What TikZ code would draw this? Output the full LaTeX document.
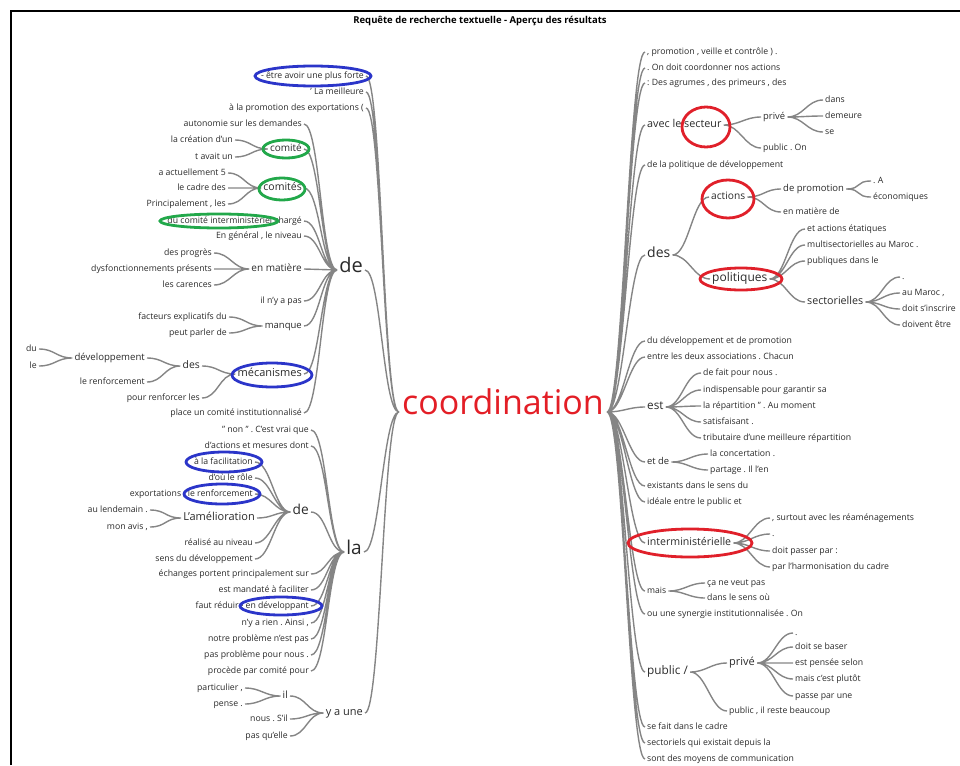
\documentclass[tikz,border=0pt]{standalone}
\usepackage{fontspec}
\setmainfont{Open Sans}
\usepackage{tikz}
\usepackage{color}
\frenchspacing
\definecolor{linkgray}{HTML}{858585}
\definecolor{wordgray}{HTML}{2A2A2A}
\definecolor{rootred}{HTML}{E31E26}
\definecolor{penblue}{HTML}{2B35C9}
\definecolor{pengreen}{HTML}{22A84A}
\definecolor{penred}{HTML}{E0202A}

\begin{document}
\begin{tikzpicture}[x=1pt,y=-1pt,
  lw/.style={anchor=mid east,inner xsep=2pt,inner ysep=1pt,text=wordgray,font=\fontsize{#1}{#1}\selectfont},
  lw/.default=8.7,
  rw/.style={lw=#1,anchor=mid west},
  rw/.default=8.7,
  link/.style={draw=linkgray,line width=1.4pt,to path={.. controls +(16,0) and +(-16,0) .. (\tikztotarget)}},
  pen/.style={line width=2.8pt}]
\useasboundingbox (0,0) rectangle (960,765);
% \clip (0,0) rectangle (960,765);
\draw [line width=1.2pt] (11,765) -- (11,11) -- (960,11);
\node [font=\bfseries\fontsize{9.5}{10}\selectfont] (title) at (480,21) {Requête de recherche textuelle - Aperçu des résultats};
%% racine
\node [text=rootred,font=\fontsize{34}{34}\selectfont,inner xsep=3pt,anchor=mid] (coord) at (503,412) {coordination};
%% gauche
\node[lw] (forte) at (366,76) {- être avoir une plus forte};
\node[lw] (meilleure) at (366,92) {' La meilleure};
\node[lw] (promo) at (366,108) {à la promotion des exportations (};
\node[lw=20] (de) at (365,270) {de};
\node[lw=19] (la) at (364,552) {la};
\node[lw=11] (yaune) at (365,713) {y a une};
\node[lw] (autonomie) at (304,124) {autonomie sur les demandes};
\node[lw=10] (comite) at (304,149) {comité};
\node[lw=10.5] (comites) at (304,188) {comités};
\node[lw] (charge) at (304,221) {du comité interministériel chargé};
\node[lw] (general) at (304,236) {En général , le niveau};
\node[lw=10] (matiere) at (304,269) {en matière};
\node[lw] (pas) at (304,301) {il n'y a pas};
\node[lw=9.5] (manque) at (304,326) {manque};
\node[lw=11] (meca) at (304,374) {mécanismes};
\node[lw] (place) at (304,413) {place un comité institutionnalisé};
\node[lw] (creation) at (235,140) {la création d'un};
\node[lw] (avait) at (235,157) {t avait un};
\node[lw] (actuel) at (228,173) {a actuellement 5};
\node[lw] (cadre) at (228,188) {le cadre des};
\node[lw] (princ) at (228,204) {Principalement , les};
\node[lw] (progres) at (214,253) {des progrès};
\node[lw] (dysf) at (214,269) {dysfonctionnements présents};
\node[lw] (carences) at (214,285) {les carences};
\node[lw] (facteurs) at (229,317) {facteurs explicatifs du};
\node[lw] (parler) at (229,333) {peut parler de};
\node[lw=10.4] (des) at (202,366) {des};
\node[lw] (renforcer) at (202,398) {pour renforcer les};
\node[lw=9.6] (dev) at (147,358) {développement};
\node[lw] (renf) at (147,382) {le renforcement};
\node[lw] (du) at (39,349) {du};
\node[lw] (le) at (39,366) {le};
\node[lw] (non) at (311,430) {" non " . C'est vrai que};
\node[lw] (mesures) at (311,446) {d'actions et mesures dont};
\node[lw=13.7] (de2) at (311,512) {de};
\node[lw] (echanges) at (311,574) {échanges portent principalement sur};
\node[lw] (mandate) at (311,590) {est mandaté à faciliter};
\node[lw] (reduire) at (311,606) {faut réduire en développant};
\node[lw] (rien) at (311,623) {n'y a rien . Ainsi ,};
\node[lw] (probleme) at (311,639) {notre problème n'est pas};
\node[lw] (nous) at (311,655) {pas problème pour nous .};
\node[lw] (procede) at (311,671) {procède par comité pour};
\node[lw] (facil) at (255,462) {à la facilitation};
\node[lw] (role) at (255,478) {d'où le rôle};
\node[lw] (export) at (255,494) {exportations , le renforcement};
\node[lw=11] (amelio) at (257,518) {L'amélioration};
\node[lw] (realise) at (255,543) {réalisé au niveau};
\node[lw] (sens) at (255,559) {sens du développement};
\node[lw] (lendemain) at (150,510) {au lendemain .};
\node[lw] (avis) at (150,527) {mon avis ,};
\node[lw=10] (il) at (290,696) {il};
\node[lw] (sil) at (290,719) {nous . S'il};
\node[lw] (quelle) at (290,736) {pas qu'elle};
\node[lw] (partic) at (245,688) {particulier ,};
\node[lw] (pense) at (245,704) {pense .};
%% droite
\node[rw] (veille) at (645,52) {, promotion , veille et contrôle ) .};
\node[rw] (coordonner) at (645,68) {. On doit coordonner nos actions};
\node[rw] (agrumes) at (645,83) {: Des agrumes , des primeurs , des};
\node[rw=10.8] (secteur) at (645,125) {avec le secteur};
\node[rw] (politique) at (645,165) {de la politique de développement};
\node[rw=14] (desr) at (645,255) {des};
\node[rw] (devpromo) at (645,341) {du développement et de promotion};
\node[rw] (associations) at (645,357) {entre les deux associations . Chacun};
\node[rw=11.7] (est) at (645,407) {est};
\node[rw=9.4] (etde) at (645,462) {et de};
\node[rw] (existants) at (645,486) {existants dans le sens du};
\node[rw] (ideale) at (645,502) {idéale entre le public et};
\node[rw=10.6] (inter) at (645,543) {interministérielle};
\node[rw=8.6] (mais) at (645,591) {mais};
\node[rw] (synergie) at (645,614) {ou une synergie institutionnalisée . On};
\node[rw=11.8] (public) at (645,672) {public /};
\node[rw] (fait) at (645,727) {se fait dans le cadre};
\node[rw] (sectoriels) at (645,743) {sectoriels qui existait depuis la};
\node[rw] (moyens) at (645,759) {sont des moyens de communication};
\node[rw=9.4] (prive) at (761,117) {privé};
\node[rw] (publicon) at (761,148) {public . On};
\node[rw] (dans) at (823,100) {dans};
\node[rw] (demeure) at (823,116) {demeure};
\node[rw] (se) at (823,132) {se};
\node[rw=10.2] (actions) at (709,197) {actions};
\node[rw=12] (politiques) at (710,279) {politiques};
\node[rw=9.5] (depromo) at (781,189) {de promotion};
\node[rw] (enmatiere) at (781,212) {en matière de};
\node[rw] (pointa) at (871,181) {. A};
\node[rw] (eco) at (871,197) {économiques};
\node[rw] (etatiques) at (805,229) {et actions étatiques};
\node[rw] (multi) at (805,245) {multisectorielles au Maroc .};
\node[rw] (publiques) at (805,261) {publiques dans le};
\node[rw=10.7] (sectorielles) at (805,302) {sectorielles};
\node[rw] (point1) at (900,277) {.};
\node[rw] (maroc) at (900,293) {au Maroc ,};
\node[rw] (inscrire) at (900,309) {doit s'inscrire};
\node[rw] (doivent) at (900,325) {doivent être};
\node[rw] (fait2) at (701,373) {de fait pour nous .};
\node[rw] (garantir) at (701,390) {indispensable pour garantir sa};
\node[rw] (moment) at (701,406) {la répartition " . Au moment};
\node[rw] (satisf) at (701,422) {satisfaisant .};
\node[rw] (tributaire) at (701,438) {tributaire d'une meilleure répartition};
\node[rw] (concert) at (708,454) {la concertation .};
\node[rw] (partage) at (708,470) {partage . Il l'en};
\node[rw] (surtout) at (770,518) {, surtout avec les réaménagements};
\node[rw] (point2) at (770,534) {.};
\node[rw] (passer) at (770,551) {doit passer par :};
\node[rw] (harmo) at (770,567) {par l'harmonisation du cadre};
\node[rw] (veut) at (705,583) {ça ne veut pas};
\node[rw] (sensou) at (705,598) {dans le sens où};
\node[rw=11] (prive2) at (727,663) {privé};
\node[rw] (reste) at (727,711) {public , il reste beaucoup};
\node[rw] (point3) at (793,633) {.};
\node[rw] (baser) at (793,647) {doit se baser};
\node[rw] (selon) at (793,663) {est pensée selon};
\node[rw] (plutot) at (793,679) {mais c'est plutôt};
\node[rw] (passe) at (793,696) {passe par une};
%% liens gauche
\draw[link] (forte.mid east) to (coord.mid west) (meilleure.mid east) to (coord.mid west)
  (promo.mid east) to (coord.mid west) (de.mid east) to (coord.mid west)
  (la.mid east) to (coord.mid west) (yaune.mid east) to (coord.mid west);
\draw[link] (autonomie.mid east) to (de.mid west) (comite.mid east) to (de.mid west)
  (comites.mid east) to (de.mid west) (charge.mid east) to (de.mid west)
  (general.mid east) to (de.mid west) (matiere.mid east) to (de.mid west)
  (pas.mid east) to (de.mid west) (manque.mid east) to (de.mid west)
  (meca.mid east) to (de.mid west) (place.mid east) to (de.mid west);
\draw[link] (creation.mid east) to (comite.mid west) (avait.mid east) to (comite.mid west);
\draw[link] (actuel.mid east) to (comites.mid west) (cadre.mid east) to (comites.mid west)
  (princ.mid east) to (comites.mid west);
\draw[link] (progres.mid east) to (matiere.mid west) (dysf.mid east) to (matiere.mid west)
  (carences.mid east) to (matiere.mid west);
\draw[link] (facteurs.mid east) to (manque.mid west) (parler.mid east) to (manque.mid west);
\draw[link] (des.mid east) to (meca.mid west) (renforcer.mid east) to (meca.mid west);
\draw[link] (dev.mid east) to (des.mid west) (renf.mid east) to (des.mid west);
\draw[link] (du.mid east) to (dev.mid west) (le.mid east) to (dev.mid west);
\draw[link] (non.mid east) to (la.mid west) (mesures.mid east) to (la.mid west)
  (de2.mid east) to (la.mid west) (echanges.mid east) to (la.mid west)
  (mandate.mid east) to (la.mid west) (reduire.mid east) to (la.mid west)
  (rien.mid east) to (la.mid west) (probleme.mid east) to (la.mid west)
  (nous.mid east) to (la.mid west) (procede.mid east) to (la.mid west);
\draw[link] (facil.mid east) to (de2.mid west) (role.mid east) to (de2.mid west)
  (export.mid east) to (de2.mid west) (amelio.mid east) to (de2.mid west)
  (realise.mid east) to (de2.mid west) (sens.mid east) to (de2.mid west);
\draw[link] (lendemain.mid east) to (amelio.mid west) (avis.mid east) to (amelio.mid west);
\draw[link] (il.mid east) to (yaune.mid west) (sil.mid east) to (yaune.mid west)
  (quelle.mid east) to (yaune.mid west);
\draw[link] (partic.mid east) to (il.mid west) (pense.mid east) to (il.mid west);
%% liens droite
\draw[link] (coord.mid east) to (veille.mid west) (coord.mid east) to (coordonner.mid west)
  (coord.mid east) to (agrumes.mid west) (coord.mid east) to (secteur.mid west)
  (coord.mid east) to (politique.mid west) (coord.mid east) to (desr.mid west)
  (coord.mid east) to (devpromo.mid west) (coord.mid east) to (associations.mid west)
  (coord.mid east) to (est.mid west) (coord.mid east) to (etde.mid west)
  (coord.mid east) to (existants.mid west) (coord.mid east) to (ideale.mid west)
  (coord.mid east) to (inter.mid west) (coord.mid east) to (mais.mid west)
  (coord.mid east) to (synergie.mid west) (coord.mid east) to (public.mid west)
  (coord.mid east) to (fait.mid west) (coord.mid east) to (sectoriels.mid west)
  (coord.mid east) to (moyens.mid west);
\draw[link] (secteur.mid east) to (prive.mid west) (secteur.mid east) to (publicon.mid west);
\draw[link] (prive.mid east) to (dans.mid west) (prive.mid east) to (demeure.mid west)
  (prive.mid east) to (se.mid west);
\draw[link] (desr.mid east) to (actions.mid west) (desr.mid east) to (politiques.mid west);
\draw[link] (actions.mid east) to (depromo.mid west) (actions.mid east) to (enmatiere.mid west);
\draw[link] (depromo.mid east) to (pointa.mid west) (depromo.mid east) to (eco.mid west);
\draw[link] (politiques.mid east) to (etatiques.mid west) (politiques.mid east) to (multi.mid west)
  (politiques.mid east) to (publiques.mid west) (politiques.mid east) to (sectorielles.mid west);
\draw[link] (sectorielles.mid east) to (point1.mid west) (sectorielles.mid east) to (maroc.mid west)
  (sectorielles.mid east) to (inscrire.mid west) (sectorielles.mid east) to (doivent.mid west);
\draw[link] (est.mid east) to (fait2.mid west) (est.mid east) to (garantir.mid west)
  (est.mid east) to (moment.mid west) (est.mid east) to (satisf.mid west)
  (est.mid east) to (tributaire.mid west);
\draw[link] (etde.mid east) to (concert.mid west) (etde.mid east) to (partage.mid west);
\draw[link] (inter.mid east) to (surtout.mid west) (inter.mid east) to (point2.mid west)
  (inter.mid east) to (passer.mid west) (inter.mid east) to (harmo.mid west);
\draw[link] (mais.mid east) to (veut.mid west) (mais.mid east) to (sensou.mid west);
\draw[link] (public.mid east) to (prive2.mid west) (public.mid east) to (reste.mid west);
\draw[link] (prive2.mid east) to (point3.mid west) (prive2.mid east) to (baser.mid west)
  (prive2.mid east) to (selon.mid west) (prive2.mid east) to (plutot.mid west)
  (prive2.mid east) to (passe.mid west);
%% annotations
\draw[pen,penblue] (313,76) ellipse [x radius=58pt,y radius=10pt];
\draw[pen,penblue] (272,375) ellipse [x radius=40pt,y radius=12pt];
\draw[pen,penblue] (224,462) ellipse [x radius=38pt,y radius=10pt];
\draw[pen,penblue] (222,494) ellipse [x radius=38pt,y radius=10pt];
\draw[pen,penblue] (281,606) ellipse [x radius=41pt,y radius=9pt];
\draw[pen,pengreen] (286,149) ellipse [x radius=23pt,y radius=9pt];
\draw[pen,pengreen] (282,189) ellipse [x radius=23pt,y radius=11pt];
\draw[pen,pengreen] (219,221) ellipse [x radius=59pt,y radius=7pt];
\draw[pen,penred] (706,127) ellipse [x radius=24pt,y radius=20pt];
\draw[pen,penred] (728,199) ellipse [x radius=26pt,y radius=19pt];
\draw[pen,penred] (741,279) ellipse [x radius=41pt,y radius=11pt];
\draw[pen,penred] (690,543) ellipse [x radius=62pt,y radius=14pt];
\end{tikzpicture}
\end{document}
